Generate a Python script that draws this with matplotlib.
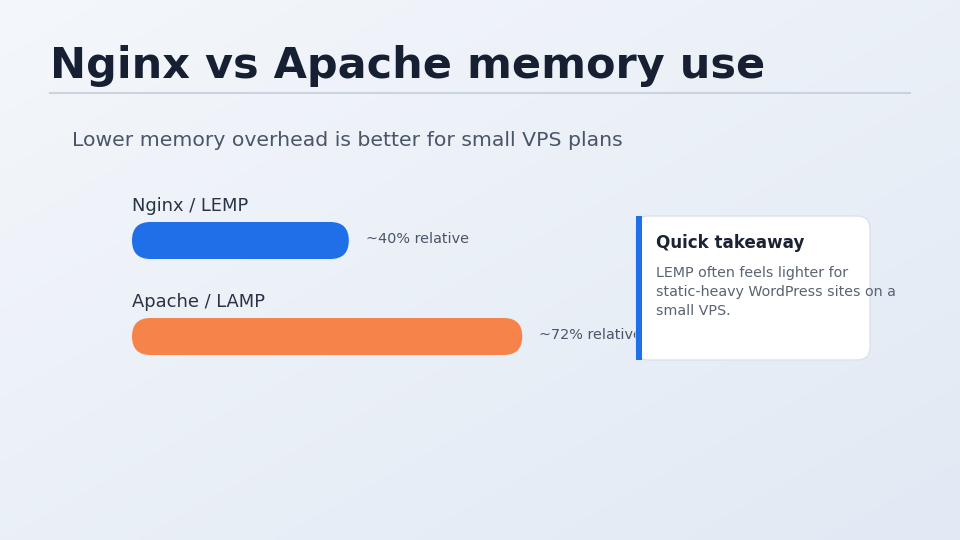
#=========================================================================
# nginx-apache-memory.py
#=========================================================================

import matplotlib
matplotlib.use( 'Agg' )
import matplotlib.pyplot as plt
from matplotlib.patches import FancyBboxPatch, Rectangle
import numpy as np

#-------------------------------------------------------------------------
# Data
#-------------------------------------------------------------------------

title    = 'Nginx vs Apache memory use'
subtitle = 'Lower memory overhead is better for small VPS plans'

stacks   = [ 'Nginx / LEMP', 'Apache / LAMP' ]
values   = [ 40, 72 ]                # relative memory use (%)
colors   = [ '#1f6fe8', '#f5834a' ]

card_title = 'Quick takeaway'
card_text  = ( 'LEMP often feels lighter for\n'
               'static-heavy WordPress sites on a\n'
               'small VPS.' )

#-------------------------------------------------------------------------
# Figure setup (960 x 540 px)
#-------------------------------------------------------------------------

W, H = 960, 540
plt.rcParams['font.family'] = 'DejaVu Sans'

fig = plt.figure( figsize=(9.6, 5.4), dpi=100 )

# Background gradient

bg = fig.add_axes( [0, 0, 1, 1] )
gx, gy = np.meshgrid( np.linspace(0, 1, 256), np.linspace(0, 1, 256) )
t = ( gx + gy ) / 2.0
c0 = np.array( [0xf4, 0xf7, 0xfb] ) / 255.0
c1 = np.array( [0xe1, 0xe9, 0xf4] ) / 255.0
img = c0[None, None, :] * ( 1 - t[..., None] ) + c1[None, None, :] * t[..., None]
bg.imshow( img, extent=[0, W, H, 0], aspect='auto' )
bg.set_xlim( 0, W )
bg.set_ylim( H, 0 )
bg.axis( 'off' )

# Overlay axes in pixel coordinates for text and card

ov = fig.add_axes( [0, 0, 1, 1] )
ov.set_xlim( 0, W )
ov.set_ylim( H, 0 )
ov.axis( 'off' )
ov.patch.set_alpha( 0 )

ov.text( 50, 66, title, fontsize=31, fontweight='bold', color='#172033',
         va='center', ha='left' )
ov.plot( [50, 910], [93, 93], color='#cbd3df', lw=1.5 )
ov.text( 72, 141, subtitle, fontsize=14.7, color='#4a5567',
         va='center', ha='left' )

#-------------------------------------------------------------------------
# Bars
#-------------------------------------------------------------------------

# Bar axes: x spans 0..100 % over 540 px starting at x=132,
# y is category index with 96 px between rows

bx0, bw = 132, 542
row_px  = 96
by_top  = 240.5 - row_px / 2.0
by_bot  = by_top + row_px * len( stacks )

bar_ax = fig.add_axes( [ bx0 / W, 1 - by_bot / H, bw / W, ( by_bot - by_top ) / H ] )
bar_ax.set_xlim( 0, 100 )
bar_ax.set_ylim( len( stacks ) - 0.5, -0.5 )
bar_ax.axis( 'off' )
bar_ax.patch.set_alpha( 0 )

px_x = bw / 100.0                    # px per x unit
px_y = row_px                        # px per y unit
bar_h = 37.0 / px_y
rad   = 18.5 / px_x

for i, ( name, val, col ) in enumerate( zip( stacks, values, colors ) ):
  bar_ax.add_patch( FancyBboxPatch( (0, i - bar_h / 2), val, bar_h,
                    boxstyle='round,pad=0,rounding_size=%f' % rad,
                    mutation_aspect=px_x / px_y, fc=col, ec='none' ) )
  bar_ax.text( 0, i - bar_h / 2 - 7 / px_y, name, fontsize=12.9,
               color='#2a3344', va='bottom', ha='left' )
  bar_ax.text( val + 17 / px_x, i - 1.5 / px_y, '~%d%% relative' % val,
               fontsize=10.4, color='#4a5567', va='center', ha='left' )

#-------------------------------------------------------------------------
# Takeaway card
#-------------------------------------------------------------------------

cx0, cy0, cx1, cy1 = 636, 216, 870, 360
card = FancyBboxPatch( (cx0, cy0), cx1 - cx0, cy1 - cy0,
                       boxstyle='round,pad=0,rounding_size=13',
                       fc='white', ec='#dbe2ec', lw=1.0, zorder=5 )
ov.add_patch( card )
ov.add_patch( Rectangle( (cx0, cy0), 6, cy1 - cy0, fc='#1f6fe8',
                         ec='none', zorder=6 ) )
ov.text( 656, 243, card_title, fontsize=12.1, fontweight='bold',
         color='#1a2233', va='center', ha='left', zorder=7 )
ov.text( 656, 265.5, card_text, fontsize=10.3, color='#5a6372',
         va='top', ha='left', linespacing=1.47, zorder=7 )

# Put overlay above bar axes so card hides the label overflow
ov.set_zorder( 3 )
bar_ax.set_zorder( 2 )

#-------------------------------------------------------------------------
# Save
#-------------------------------------------------------------------------

plt.savefig( 'out.png', dpi=100 )
